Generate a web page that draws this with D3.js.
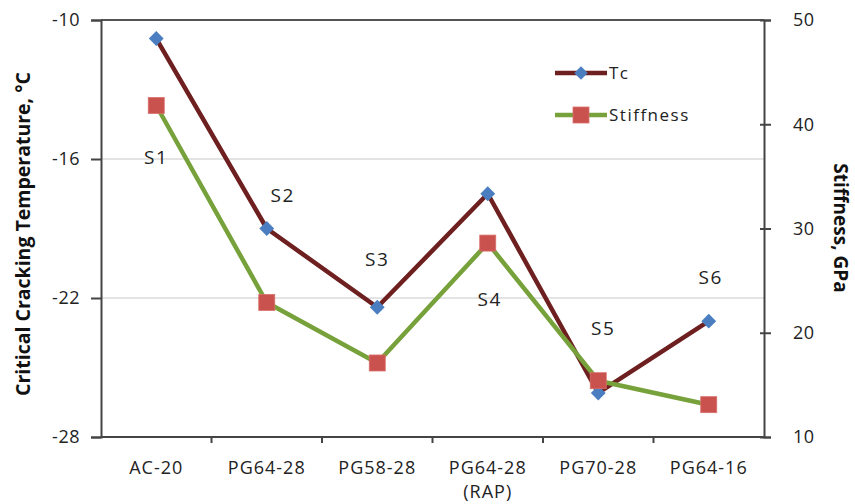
<!DOCTYPE html>
<html><head><meta charset="utf-8">
<script src="https://cdn.jsdelivr.net/npm/d3@7"></script>
<style>body{margin:0;background:#fff}svg{display:block}</style>
</head><body><svg id="c" width="855" height="504"></svg>
<script>
const categories = ["AC-20", "PG64-28", "PG58-28", "PG64-28\n(RAP)", "PG70-28", "PG64-16"];
const tcValues = [-10.8, -19.0, -22.4, -17.5, -26.1, -23.0];
const stiffnessValues = [41.8, 22.9, 17.1, 28.6, 15.4, 13.1];
const sampleLabels = ["S1", "S2", "S3", "S4", "S5", "S6"];
const sampleLabelTc = [-15.9, -17.55, -20.3, -22.05, -23.3, -21.1];
const leftTicks = [-10, -16, -22, -28];
const rightTicks = [10, 20, 30, 40, 50];

const svg = d3.select("#c");
const m = {l: 101, r: 764, t: 20, b: 437};
const font = "'Open Sans', sans-serif";

const x = d3.scaleBand().domain(d3.range(categories.length)).range([m.l, m.r]);
const yL = d3.scaleLinear().domain([-28, -10]).range([m.b, m.t]);
const yR = d3.scaleLinear().domain([10, 50]).range([m.b, m.t]);
const cx = i => x(i) + x.bandwidth() / 2;

// gridlines
svg.append("g").selectAll("line").data([-16, -22]).join("line")
  .attr("x1", m.l).attr("x2", m.r).attr("y1", d => yL(d)).attr("y2", d => yL(d))
  .attr("stroke", "#c8c8c8").attr("stroke-width", 1);
svg.append("line").attr("x1", m.l).attr("x2", m.r).attr("y1", m.t).attr("y2", m.t)
  .attr("stroke", "#555").attr("stroke-width", 2);

// left axis
const gl = svg.append("g").attr("transform", `translate(${m.l},0)`)
  .call(d3.axisLeft(yL).tickValues(d3.range(-28, -9, 1)).tickSize(6).tickFormat(""));
gl.call(d3.axisLeft(yL).tickValues(leftTicks).tickSize(10).tickFormat(d => d).tickPadding(11));
// right axis
const gr = svg.append("g").attr("transform", `translate(${m.r},0)`)
  .call(d3.axisRight(yR).tickValues(d3.range(10, 51, 2)).tickSize(6).tickFormat(""));
gr.call(d3.axisRight(yR).tickValues(rightTicks).tickSize(7).tickFormat(d => d).tickPadding(22));
gr.selectAll(".tick line").attr("x1", -4);
// bottom axis
const gb = svg.append("g").attr("transform", `translate(0,${m.b})`);
gb.append("line").attr("x1", m.l).attr("x2", m.r).attr("y1", 0).attr("y2", 0).attr("stroke", "#444").attr("stroke-width", 2);
gb.selectAll("line.t").data(d3.range(1, categories.length)).join("line").attr("class", "t")
  .attr("x1", d => x(d)).attr("x2", d => x(d)).attr("y1", 0).attr("y2", 6)
  .attr("stroke", "#444").attr("stroke-width", 2);
categories.forEach((c, i) => {
  const t = gb.append("text").attr("x", cx(i)).attr("y", 37).attr("text-anchor", "middle")
    .attr("font-family", font).attr("font-size", 18).attr("letter-spacing", 1).attr("fill", "#222");
  c.split("\n").forEach((s, k) => t.append("tspan").attr("x", cx(i)).attr("dy", k ? 24 : 0).text(s));
});

[gl, gr].forEach(g => {
  g.select(".domain").attr("stroke", "#444").attr("stroke-width", 2);
  g.selectAll(".tick line").attr("stroke", "#444").attr("stroke-width", 2);
  g.selectAll(".tick text").attr("font-family", font).attr("font-size", 18)
    .attr("letter-spacing", 0.5).attr("fill", "#222");
});

// axis titles
svg.append("text").attr("transform", `translate(30,234) rotate(-90)`)
  .attr("text-anchor", "middle").attr("font-family", font).attr("font-weight", "bold")
  .attr("font-size", 19.5).attr("fill", "#111").text("Critical Cracking Temperature, °C");
svg.append("text").attr("transform", `translate(834,228) rotate(90)`)
  .attr("text-anchor", "middle").attr("font-family", font).attr("font-weight", "bold")
  .attr("font-size", 19).attr("fill", "#111").text("Stiffness, GPa");

// Tc series
const tcColor = "#6e1f1f", stColor = "#77a13a";
const lineL = d3.line().x((d, i) => cx(i)).y(d => yL(d));
const lineR = d3.line().x((d, i) => cx(i)).y(d => yR(d));
svg.append("path").datum(tcValues).attr("d", lineL).attr("fill", "none")
  .attr("stroke", tcColor).attr("stroke-width", 4.5).attr("stroke-linejoin", "round");
svg.append("g").selectAll("path").data(tcValues).join("path")
  .attr("d", d3.symbol().type(d3.symbolSquare).size(110))
  .attr("transform", (d, i) => `translate(${cx(i)},${yL(d)}) rotate(45)`)
  .attr("fill", "#4a7ec0");

// Stiffness series
svg.append("path").datum(stiffnessValues).attr("d", lineR).attr("fill", "none")
  .attr("stroke", stColor).attr("stroke-width", 4.5).attr("stroke-linejoin", "round");
svg.append("g").selectAll("rect").data(stiffnessValues).join("rect")
  .attr("x", (d, i) => cx(i) - 8).attr("y", d => yR(d) - 8).attr("width", 16).attr("height", 16)
  .attr("fill", "#c9514e").attr("stroke", "#d9706c").attr("stroke-width", 0.8);

// sample labels
const labelDx = [0, 16, 0, 2, 5, 2];
svg.append("g").selectAll("text").data(sampleLabels).join("text")
  .attr("x", (d, i) => cx(i) + labelDx[i]).attr("y", (d, i) => yL(sampleLabelTc[i]) + 7)
  .attr("text-anchor", "middle").attr("font-family", font).attr("font-size", 19)
  .attr("letter-spacing", 1.5).attr("fill", "#222").text(d => d);

// legend
const legend = [
  {name: "Tc", color: tcColor, y: 73, shape: "diamond"},
  {name: "Stiffness", color: stColor, y: 115, shape: "square"}
];
legend.forEach(l => {
  svg.append("line").attr("x1", 555).attr("x2", 607).attr("y1", l.y).attr("y2", l.y)
    .attr("stroke", l.color).attr("stroke-width", 4.5);
  if (l.shape === "diamond") {
    svg.append("path").attr("d", d3.symbol().type(d3.symbolSquare).size(90))
      .attr("transform", `translate(581,${l.y}) rotate(45)`).attr("fill", "#4a7ec0");
  } else {
    svg.append("rect").attr("x", 573).attr("y", l.y - 8).attr("width", 16).attr("height", 16)
      .attr("fill", "#c9514e").attr("stroke", "#d9706c").attr("stroke-width", 0.8);
  }
  svg.append("text").attr("x", 609).attr("y", l.y + 6).attr("font-family", font)
    .attr("font-size", 17).attr("fill", "#222").attr("letter-spacing", 1.5).text(l.name);
});
</script></body></html>
